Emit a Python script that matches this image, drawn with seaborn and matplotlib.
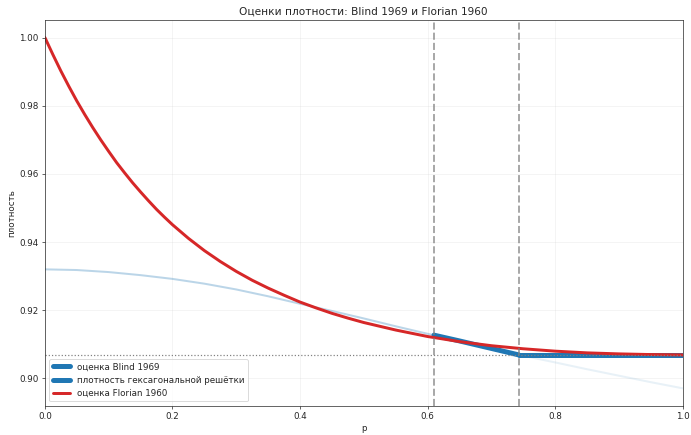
import numpy as np
import pandas as pd
import matplotlib
matplotlib.use("Agg")
import matplotlib.pyplot as plt
import seaborn as sns

sns.set_style("ticks")
plt.rcParams['font.family'] = ['DejaVu Sans']

# values
p_florian = [0.0, 0.0125, 0.025, 0.0375, 0.05, 0.0625, 0.075, 0.0875, 0.10,
             0.1125, 0.125, 0.1375, 0.15, 0.1625, 0.175, 0.1875, 0.20, 0.225,
             0.25, 0.275, 0.30, 0.325, 0.35, 0.375, 0.40, 0.425, 0.45, 0.475,
             0.50, 0.55, 0.60, 0.65, 0.70, 0.75, 0.80, 0.85, 0.90, 0.95, 1.0]
rho_florian = [1.0000, 0.9950, 0.9902, 0.9857, 0.9814, 0.9774, 0.9736, 0.9700,
               0.9666, 0.9633, 0.9603, 0.9574, 0.9547, 0.9521, 0.9496, 0.9473,
               0.9451, 0.9411, 0.9375, 0.9343, 0.9314, 0.9288, 0.9265, 0.9244,
               0.9224, 0.9207, 0.9191, 0.9177, 0.9164, 0.9142, 0.9123, 0.9108,
               0.9096, 0.9087, 0.9080, 0.9075, 0.9072, 0.9070, 0.9069]

p_blind = [0.0, 0.05, 0.10, 0.15, 0.20, 0.25, 0.30, 0.35, 0.40, 0.45, 0.50,
           0.55, 0.60, 0.61, 0.65, 0.70, 0.743]
rho_blind = [0.9320, 0.9318, 0.9312, 0.9303, 0.9292, 0.9278, 0.9261, 0.9241,
             0.9219, 0.9198, 0.9176, 0.9153, 0.9131, 0.9127, 0.9110, 0.9088,
             0.9069]

p_blind_tail = [0.743, 0.80, 0.85, 0.90, 0.95, 1.0]
rho_blind_tail = [0.9069, 0.9047, 0.9027, 0.9008, 0.8989, 0.8971]

p_low, p_high = 0.61, 0.743
hex_density = 0.9069

df_blind = pd.DataFrame({"p": p_blind, "rho": rho_blind})
df_valid = df_blind[(df_blind["p"] >= p_low) & (df_blind["p"] <= p_high)]
df_hex = pd.DataFrame({"p": [p_high, 1.0], "rho": [hex_density, hex_density]})

dpi = 691 / 11
fig, ax = plt.subplots(figsize=(11, 435 / dpi), dpi=dpi)
fig.subplots_adjust(left=0.065, right=0.988, bottom=0.067, top=0.954)

# faint full Blind curve
sns.lineplot(data=df_blind, x="p", y="rho", ax=ax, color="#1f77b4", lw=2.3,
             alpha=0.3, sort=False)
sns.lineplot(x=p_blind_tail, y=rho_blind_tail, ax=ax, color="#1f77b4", lw=2.3,
             alpha=0.1, sort=False)

sns.lineplot(data=df_valid, x="p", y="rho", ax=ax, color="#1f77b4", lw=5.7,
             label="оценка Blind 1969", sort=False)
sns.lineplot(data=df_hex, x="p", y="rho", ax=ax, color="#1f77b4", lw=5.7,
             label="плотность гексагональной решётки", sort=False)
sns.lineplot(x=p_florian, y=rho_florian, ax=ax, color="#d62728", lw=3.4,
             label="оценка Florian 1960", sort=False)

ax.axhline(hex_density, color="gray", ls=":", lw=1.4)
ax.axvline(p_low, color="gray", ls="--", lw=2.2, alpha=0.7)
ax.axvline(p_high, color="gray", ls="--", lw=2.2, alpha=0.7)

ax.set_xlim(0, 1)
ax.grid(True, alpha=0.3)
ax.set_xlabel("p")
ax.set_ylabel("плотность")
ax.set_title("Оценки плотности: Blind 1969 и Florian 1960")
ax.legend(loc="lower left")

fig.savefig("out.png", dpi=dpi)
